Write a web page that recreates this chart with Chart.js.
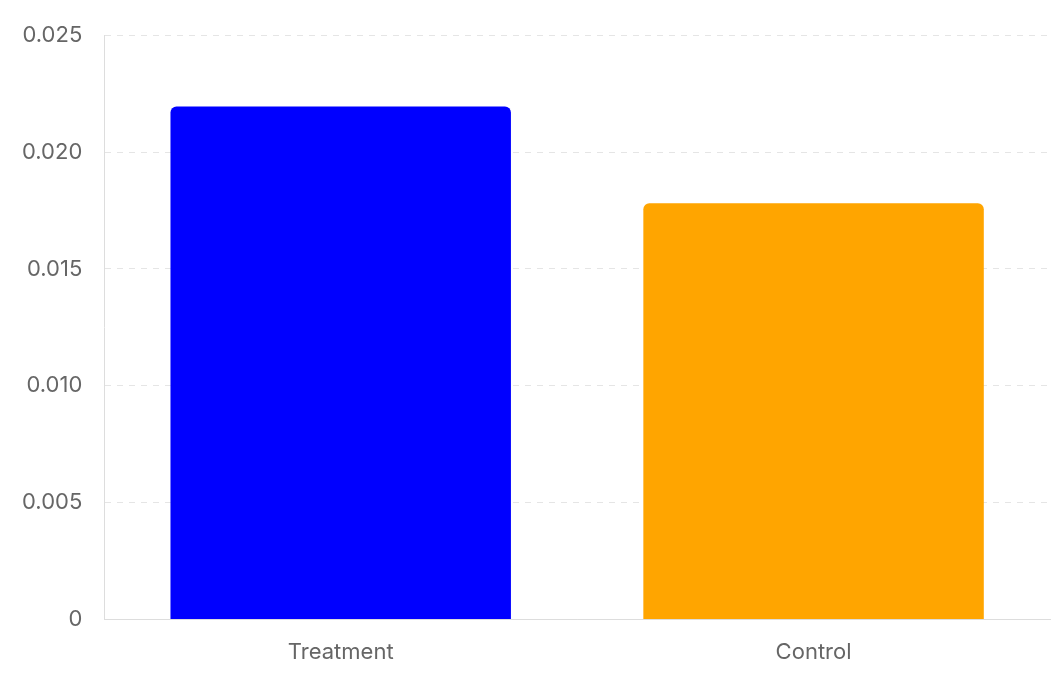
<!DOCTYPE html>
<html>
<head>
<meta charset="utf-8">
<script src="https://cdn.jsdelivr.net/npm/chart.js@4"></script>
<style>
  html, body { margin: 0; padding: 0; background: #fff; }
  #wrap { width: 1052px; height: 682px; }
</style>
</head>
<body>
<div id="wrap"><canvas id="chart"></canvas></div>
<script>
const categories = ['Treatment', 'Control'];
const values = [0.02195, 0.01781];
const barColors = ['#0000ff', '#ffa500'];
const yTicks = [0, 0.005, 0.010, 0.015, 0.020, 0.025];

new Chart(document.getElementById('chart').getContext('2d'), {
  type: 'bar',
  data: {
    labels: categories,
    datasets: [{
      data: values,
      backgroundColor: barColors,
      borderRadius: { topLeft: 6, topRight: 6 },
      borderSkipped: 'bottom'
    }]
  },
  options: {
    responsive: true,
    maintainAspectRatio: false,
    animation: false,
    layout: { padding: { top: 12, right: 2, bottom: 4 } },
    plugins: { legend: { display: false }, tooltip: { enabled: false } },
    scales: {
      x: {
        grid: { display: false },
        border: { color: '#ddd' },
        ticks: { color: '#666', font: { family: 'Inter', size: 22 }, padding: 12 }
      },
      y: {
        min: 0,
        max: 0.025,
        afterBuildTicks: axis => { axis.ticks = yTicks.map(v => ({ value: v })); },
        grid: { color: '#e5e5e5', drawTicks: false },
        border: { color: '#ddd', dash: [6, 6] },
        ticks: {
          color: '#666',
          font: { family: 'Inter', size: 22 },
          padding: 22,
          callback: v => v === 0 ? '0' : v.toFixed(3)
        }
      }
    }
  }
});
</script>
</body>
</html>
